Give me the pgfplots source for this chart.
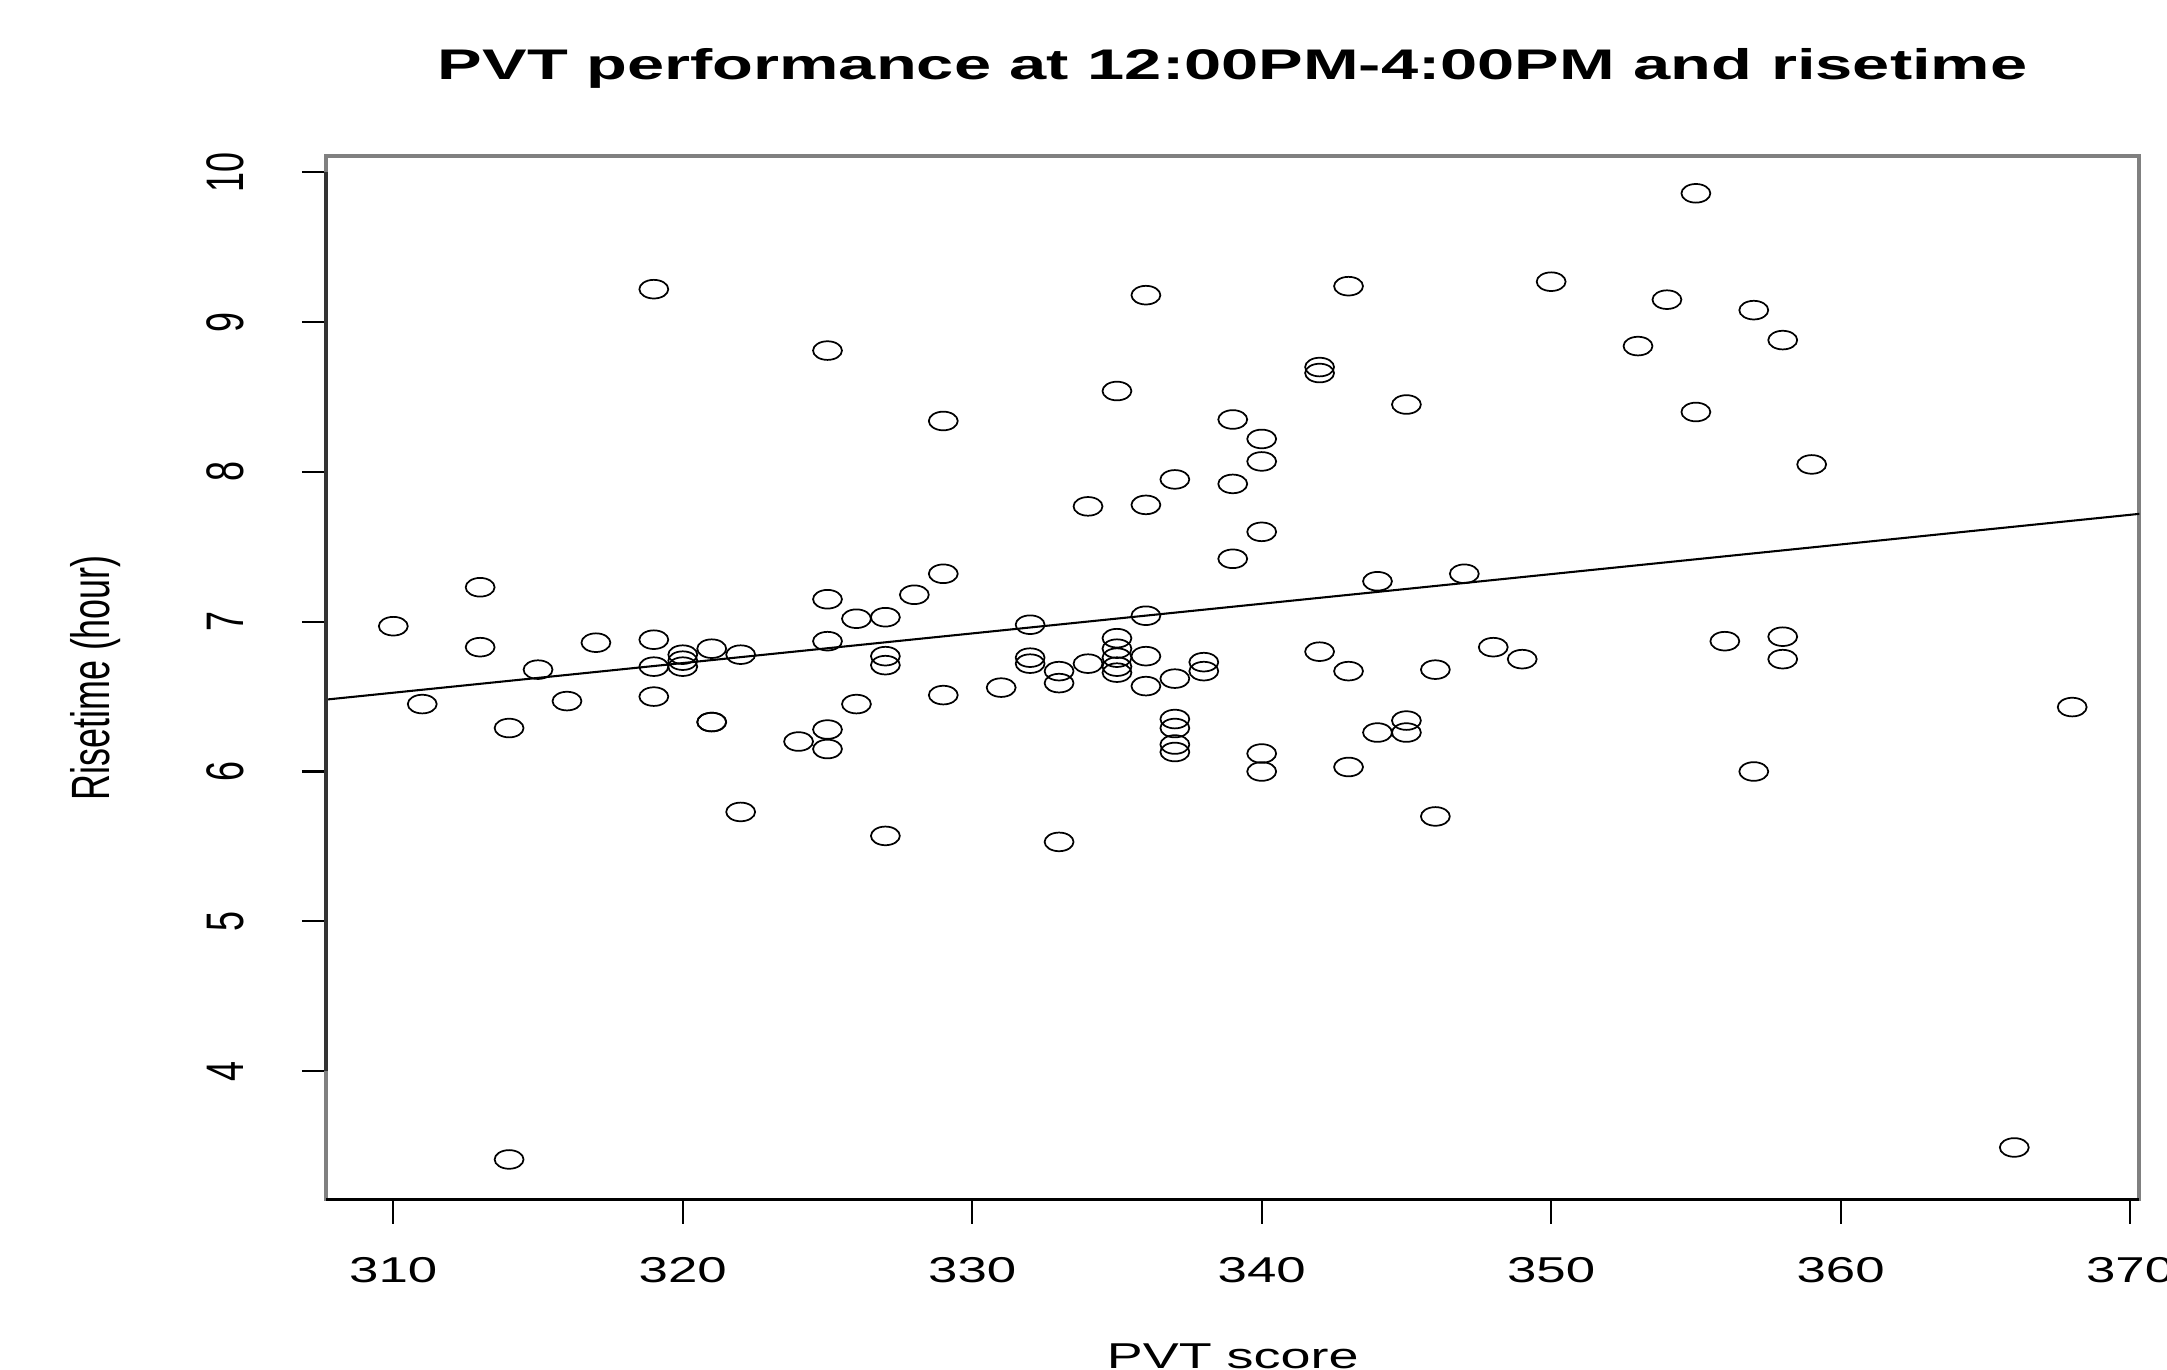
\documentclass[border=0pt]{standalone}
\usepackage{fontspec}
\setmainfont{Liberation Sans}
\usepackage{graphicx}
\usepackage{pgfplots}
\pgfplotsset{compat=1.18}

% PVT score vs risetime
\pgfplotstableread{
x y
310 6.97
311 6.45
313 7.23
313 6.83
314 6.29
314 3.41
315 6.68
316 6.47
317 6.86
319 9.22
319 6.88
319 6.70
319 6.50
320 6.78
320 6.74
320 6.70
321 6.82
321 6.33
321 6.33
322 6.78
322 5.73
324 6.20
325 8.81
325 7.15
325 6.87
325 6.28
325 6.15
326 7.02
326 6.45
327 7.03
327 6.77
327 6.71
327 5.57
328 7.18
329 8.34
329 7.32
329 6.51
331 6.56
332 6.98
332 6.76
332 6.72
333 6.67
333 6.59
333 5.53
334 7.77
334 6.72
335 8.54
335 6.89
335 6.82
335 6.76
335 6.70
335 6.66
336 9.18
336 7.78
336 7.04
336 6.77
336 6.57
337 7.95
337 6.62
337 6.35
337 6.29
337 6.18
337 6.13
338 6.73
338 6.67
339 8.35
339 7.92
339 7.42
340 8.22
340 8.07
340 7.60
340 6.12
340 6.00
342 8.70
342 8.66
342 6.80
343 9.24
343 6.67
343 6.03
344 7.27
344 6.26
345 8.45
345 6.34
345 6.26
346 6.68
346 5.70
347 7.32
348 6.83
349 6.75
350 9.27
353 8.84
354 9.15
355 9.86
355 8.40
356 6.87
357 9.08
357 6.00
358 8.88
358 6.90
358 6.75
359 8.05
366 3.49
368 6.43
}\pvtdata

\begin{document}
\begin{tikzpicture}
\begin{axis}[
    width=524.8pt, height=302pt, scale only axis,
    xmin=307.68, xmax=370.32, ymin=3.142, ymax=10.108,
    xtick={310,320,...,370}, ytick={4,5,...,10},
    xtick pos=bottom, ytick pos=left,
    tick align=outside, major tick length=7pt,
    tick style={black, line width=0.6pt},
    axis line style={draw=black!50, line width=1.1pt},
    clip=false,
    /pgf/number format/assume math mode=true,
    xticklabel={\scalebox{1.47}[1]{\pgfmathprintnumber{\tick}}},
    yticklabel={\scalebox{1}[1.47]{\pgfmathprintnumber{\tick}}},
    every tick label/.append style={font=\fontsize{10.4}{12}\selectfont},
    xticklabel style={anchor=base, yshift=-17pt},
    yticklabel style={rotate=90, anchor=base, yshift=17pt},
    title={\scalebox{1.56}[1]{PVT performance at 12:00PM-4:00PM and risetime}},
    title style={font=\fontsize{12.4}{14}\selectfont\bfseries,
        at={(axis description cs:0.5,1.054)}, anchor=base},
    xlabel={\scalebox{1.5}[1]{PVT score}},
    xlabel style={font=\fontsize{10.4}{12}\selectfont,
        at={(axis description cs:0.5,-0.162)}, anchor=base},
    ylabel={\scalebox{1}[1.5]{Risetime (hour)}},
    ylabel style={font=\fontsize{10.4}{12}\selectfont,
        at={(axis description cs:-0.1197,0.5)}, anchor=base},
]
\addplot[only marks, mark=o, mark size=2.7pt,
    mark options={xscale=1.55, line width=0.5pt, draw=black}]
    table[x=x, y=y] {\pvtdata};
% fitted line across the plot region
\addplot[black, line width=0.6pt] coordinates {(307.68,6.48) (370.32,7.72)};
\draw[black!80, line width=1.1pt] (axis cs:307.68,4) -- (axis cs:307.68,10);
\draw[black, line width=1.1pt] (rel axis cs:0,0) -- (rel axis cs:1,0);
\end{axis}
\pgfresetboundingbox
\path (-94.4pt,-49.2pt) rectangle (532.8pt,347.2pt);
\end{tikzpicture}
\end{document}
